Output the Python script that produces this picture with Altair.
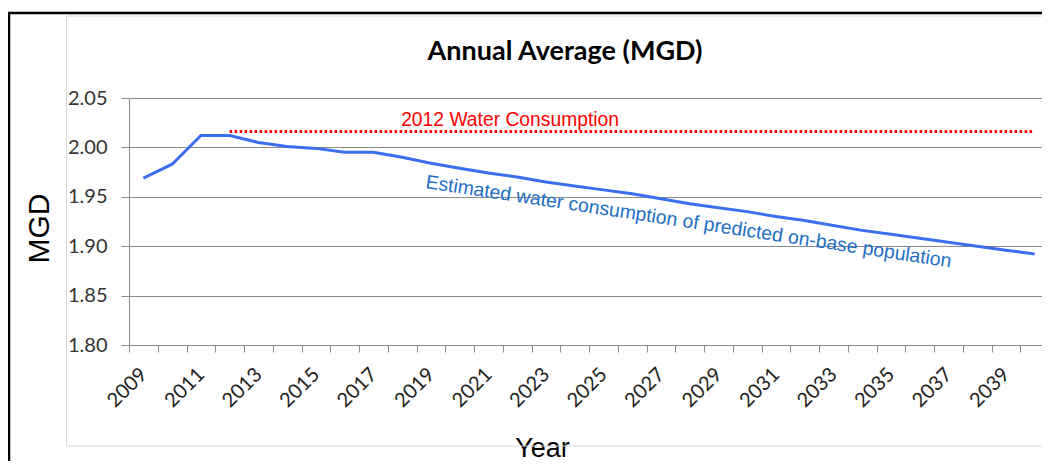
import altair as alt
import pandas as pd

# ---- data ----
years = [str(y) for y in range(2009, 2041)]
mgd = [1.969, 1.983, 2.012, 2.012, 2.005, 2.001, 1.999, 1.995, 1.995, 1.990,
       1.984, 1.979, 1.974, 1.970, 1.965, 1.961, 1.957, 1.953, 1.948, 1.943,
       1.939, 1.935, 1.930, 1.926, 1.921, 1.916, 1.912, 1.908, 1.904, 1.900,
       1.896, 1.892]
ref_years = ["2012", "2040"]
ref_values = [2.016, 2.016]
y_ticks = [1.80, 1.85, 1.90, 1.95, 2.00, 2.05]

ref_label = "2012 Water Consumption"
ref_label_year = ["2018"]
est_label = "Estimated water consumption of predicted on-base population"
est_label_year = ["2019"]
est_label_value = [1.958]

main = pd.DataFrame({"year": years, "mgd": mgd})
ref = pd.DataFrame({"year": ref_years, "mgd": ref_values})
ref_txt = pd.DataFrame({"year": ref_label_year, "mgd": [ref_values[0]], "t": [ref_label]})
est_txt = pd.DataFrame({"year": est_label_year, "mgd": est_label_value, "t": [est_label]})

W, H = 920, 247
LABEL_FONT = "Lato"
TEXT_FONT = "Liberation Sans"
GRID = "#8a8a8a"

x_enc = alt.X(
    "year:O",
    bandPosition=0.5,
    scale=alt.Scale(type="band", domain=years, paddingInner=0, paddingOuter=0),
    axis=alt.Axis(
        title="Year",
        titleFont=TEXT_FONT, titleFontSize=27, titleFontWeight="normal", titleColor="#000",
        titleX=413, titleY=111, titleAlign="center", titleBaseline="alphabetic",
        labelExpr="toNumber(datum.value) % 2 == 1 ? datum.label : ''",
        labelAngle=-45, labelAlign="right", labelBaseline="middle",
        labelFont=LABEL_FONT, labelFontSize=20, labelColor="#222",
        labelPadding=19, labelOverlap=False, labelFlush=False,
        tickBand="extent", tickSize=7, tickColor=GRID, domainColor=GRID,
        grid=False,
    ),
)
y_enc = alt.Y(
    "mgd:Q",
    scale=alt.Scale(domain=[1.80, 2.05], nice=False, zero=False),
    axis=alt.Axis(
        title="MGD",
        titleFont=TEXT_FONT, titleFontSize=30, titleFontWeight="normal", titleColor="#000",
        titleX=-81, titleY=130, titleAlign="center", titleBaseline="alphabetic",
        values=y_ticks, format=".2f",
        labelFont=LABEL_FONT, labelFontSize=20, labelColor="#333", labelPadding=14,
        tickSize=8, tickColor=GRID, domainColor=GRID,
        grid=True, gridColor=GRID, gridWidth=1,
    ),
)

line = alt.Chart(main).mark_line(color="#3D6EF2", strokeWidth=3).encode(x=x_enc, y=y_enc)

ref_line = alt.Chart(ref).mark_line(
    color="#FF0000", strokeWidth=3, strokeDash=[2.5, 2.5]
).encode(x=alt.X("year:O", bandPosition=0.5), y="mgd:Q")

ref_text = alt.Chart(ref_txt).mark_text(
    font=TEXT_FONT, fontSize=19.3, color="#FF0000", align="left",
    baseline="alphabetic", dx=-1, dy=-6,
).encode(x=alt.X("year:O", bandPosition=0.5), y="mgd:Q", text="t:N")

est_text = alt.Chart(est_txt).mark_text(
    font=TEXT_FONT, fontSize=19.4, color="#1E6FC4", align="left",
    baseline="alphabetic", angle=8.6, dx=-6,
).encode(x=alt.X("year:O", bandPosition=0.5), y="mgd:Q", text="t:N")

title = alt.Chart(pd.DataFrame({"t": ["Annual Average (MGD)"]})).mark_text(
    font=LABEL_FONT, fontSize=27, fontWeight="bold", color="#000",
    align="center", baseline="alphabetic",
).encode(x=alt.value(436), y=alt.value(-38), text="t:N")

# slide frame (black, top and left) and chart-area border (light gray)
frame_top = alt.Chart(pd.DataFrame({"a": [0]})).mark_rule(color="#000", strokeWidth=2.5).encode(
    x=alt.value(-121), x2=alt.value(W), y=alt.value(-85))
frame_left = alt.Chart(pd.DataFrame({"a": [0]})).mark_rule(color="#000", strokeWidth=2.5).encode(
    x=alt.value(-120), y=alt.value(-86), y2=alt.value(372))
box_top = alt.Chart(pd.DataFrame({"a": [0]})).mark_rule(color="#d9d9d9", strokeWidth=1).encode(
    x=alt.value(-62.5), x2=alt.value(W), y=alt.value(-82))
box_left = alt.Chart(pd.DataFrame({"a": [0]})).mark_rule(color="#d9d9d9", strokeWidth=1).encode(
    x=alt.value(-62.5), y=alt.value(-82), y2=alt.value(348))
box_bottom = alt.Chart(pd.DataFrame({"a": [0]})).mark_rule(color="#d9d9d9", strokeWidth=1).encode(
    x=alt.value(-62.5), x2=alt.value(W), y=alt.value(348))

chart = alt.layer(
    frame_top, frame_left, box_top, box_left, box_bottom,
    line, ref_line, ref_text, est_text, title,
).properties(
    width=W, height=H,
    padding={"left": 121, "top": 90, "right": -7, "bottom": 116},
    autosize=alt.AutoSizeParams(type="none"),
    background="white",
).configure_view(stroke=None)

chart.save("out.html", embed_options={"renderer": "svg", "actions": False})
